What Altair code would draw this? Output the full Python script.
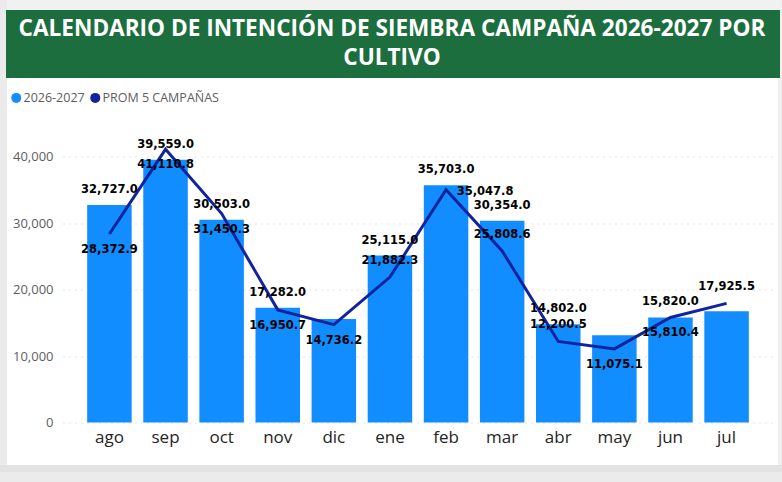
import altair as alt
import pandas as pd

months = ["ago", "sep", "oct", "nov", "dic", "ene", "feb", "mar", "abr", "may", "jun", "jul"]
campana_2026 = [32727.0, 39559.0, 30503.0, 17282.0, 15560.0, 25115.0, 35703.0, 30354.0, 14802.0, 13150.0, 15820.0, 16730.0]
prom_5 = [28372.9, 41110.8, 31450.3, 16950.7, 14736.2, 21882.3, 35047.8, 25808.6, 12200.5, 11075.1, 15810.4, 17925.5]
series_names = ["2026-2027", "PROM 5 CAMPAÑAS"]
title_lines = ["CALENDARIO DE INTENCIÓN DE SIEMBRA CAMPAÑA 2026-2027 POR", "CULTIVO"]
y_ticks = [0, 10000, 20000, 30000, 40000]

# label placement (style) chosen as in the reference
bar_label_hidden = ["dic", "may", "jul"]
line_label_side = ["below", "below", "below", "below", "below", "above",
                   "right", "above", "above", "below", "below", "above"]

BLUE = "#118DFF"
NAVY = "#12239E"
GREEN = "#1D6E3F"

W, H = 710, 299
PL, PT = 63, 123.5

df = pd.DataFrame({
    "mes": months,
    "bar": campana_2026,
    "line": prom_5,
    "serie": series_names[0],
    "side": line_label_side,
})
df["bar_shown"] = ~df["mes"].isin(bar_label_hidden)

xenc = alt.X("mes:N", sort=months, title=None,
             scale=alt.Scale(paddingInner=0.205, paddingOuter=0.43),
             axis=alt.Axis(labelAngle=0, labelFontSize=17, labelColor="#252423",
                           labelFont="Open Sans", domain=False, ticks=False, labelPadding=7))
yscale = alt.Scale(domain=[0, 45000], nice=False)

base = alt.Chart(df)

bars = base.mark_bar(size=44.5).encode(
    x=xenc,
    y=alt.Y("bar:Q", scale=yscale, title=None,
            axis=alt.Axis(values=y_ticks, format=",.0f", labelFontSize=13, labelColor="#605e5c",
                          labelFont="Open Sans", domain=False, ticks=False, labelPadding=10,
                          grid=True, gridDash=[1, 5], gridColor="#c8c8c8", gridWidth=1.2)),
    color=alt.Color("serie:N", scale=alt.Scale(domain=series_names, range=[BLUE, NAVY]),
                    legend=alt.Legend(title=None, orient="none", direction="horizontal",
                                      legendX=-53, legendY=-32, symbolType="circle",
                                      symbolSize=100, symbolStrokeWidth=0, labelFontSize=12.5,
                                      labelFont="Open Sans", labelColor="#605e5c",
                                      labelOffset=1, columnPadding=4, padding=0)),
)

line = base.mark_line(color=NAVY, strokeWidth=3).encode(
    x=alt.X("mes:N", sort=months), y=alt.Y("line:Q", scale=yscale))

lbl = dict(font="DejaVu Sans", fontWeight="bold", fontSize=11.5, color="#000000", baseline="middle")

bar_labels = base.transform_filter("datum.bar_shown").mark_text(dy=-15, **lbl).encode(
    x=alt.X("mes:N", sort=months), y=alt.Y("bar:Q", scale=yscale),
    text=alt.Text("bar:Q", format=",.1f"))

line_below = base.transform_filter("datum.side == 'below'").mark_text(dy=16, **lbl).encode(
    x=alt.X("mes:N", sort=months), y=alt.Y("line:Q", scale=yscale),
    text=alt.Text("line:Q", format=",.1f"))
line_above = base.transform_filter("datum.side == 'above'").mark_text(dy=-16, **lbl).encode(
    x=alt.X("mes:N", sort=months), y=alt.Y("line:Q", scale=yscale),
    text=alt.Text("line:Q", format=",.1f"))
line_right = base.transform_filter("datum.side == 'right'").mark_text(dx=39, dy=2, **lbl).encode(
    x=alt.X("mes:N", sort=months), y=alt.Y("line:Q", scale=yscale),
    text=alt.Text("line:Q", format=",.1f"))

one = alt.Data(values=[{"a": 1}])


def rect(x0, x1, y0, y1, color):
    return alt.Chart(one).mark_rect(color=color).encode(
        x=alt.value(x0 - PL), x2=alt.value(x1 - PL),
        y=alt.value(y0 - PT), y2=alt.value(y1 - PT))


decor = [
    rect(0, 782, 0, 10, "#f1f1f1"),
    rect(0, 7, 0, 482, "#ebebeb"),
    rect(778, 782, 0, 482, "#f0f0f0"),
    rect(0, 782, 465, 482, "#e2e2e2"),
    rect(0, 782, 472, 482, "#ebebeb"),
    rect(6, 780, 10, 78, GREEN),
]
titles = [
    alt.Chart(one).mark_text(text=t, font="Open Sans", fontWeight="bold", fontSize=22.6,
                             color="white", align="center", baseline="alphabetic").encode(
        x=alt.value(392 - PL), y=alt.value(yb - PT))
    for t, yb in zip(title_lines, [36, 65])
]

chart = alt.layer(*decor, *titles, bars, line, bar_labels, line_below, line_above, line_right).properties(
    width=W, height=H,
    autosize=alt.AutoSizeParams(type="none"),
    padding={"left": PL, "top": PT, "right": 782 - PL - W, "bottom": 482 - PT - H},
    background="white",
).configure_view(stroke=None)

chart.save("out.html", embed_options={"renderer": "svg", "actions": False})
